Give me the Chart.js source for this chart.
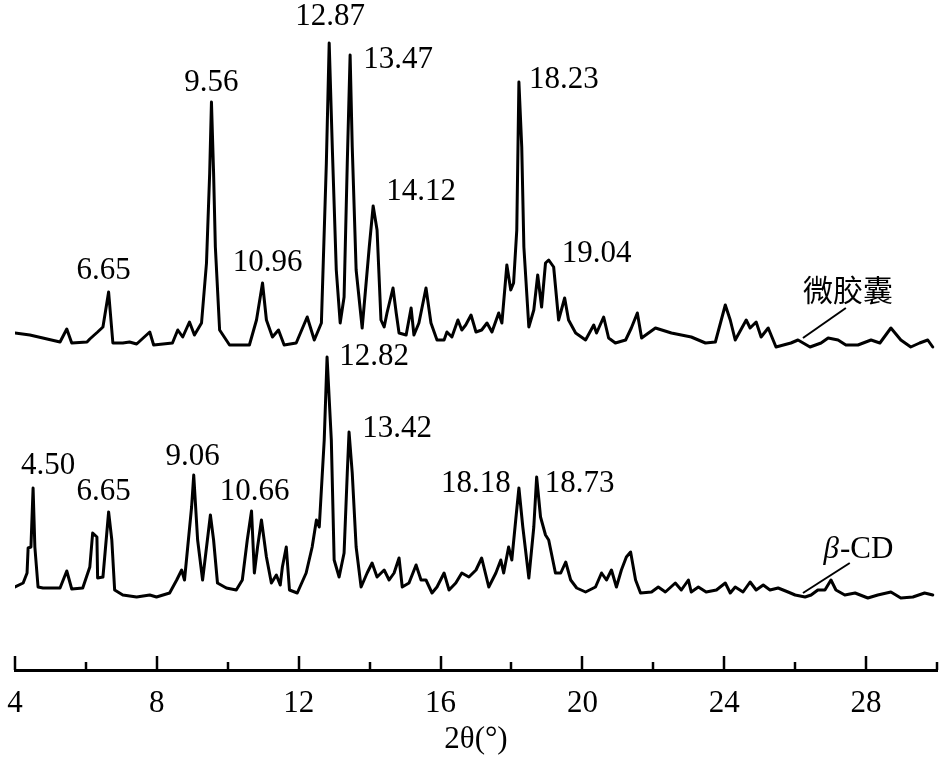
<!DOCTYPE html>
<html>
<head>
<meta charset="utf-8">
<script src="https://cdn.jsdelivr.net/npm/chart.js@4.4.1/dist/chart.umd.min.js"></script>
<style>
  html, body { margin: 0; padding: 0; background: #fff; }
  #wrap { width: 945px; height: 758px; position: relative; }
</style>
</head>
<body>
<div id="wrap"><canvas id="c" width="945" height="758"></canvas></div>
<script>
// ---- data ----
// 微胶囊 (microcapsule) pattern: 2θ (°) and intensity (a.u., above its own baseline)
const capsuleTheta = [4.00,4.42,5.27,5.46,5.60,6.03,6.11,6.33,6.48,6.64,6.76,7.04,7.23,7.43,7.80,7.91,8.44,8.59,8.73,8.92,9.06,9.26,9.40,9.49,9.54,9.60,9.65,9.77,10.05,10.61,10.81,10.98,11.09,11.26,11.43,11.59,11.93,12.24,12.44,12.64,12.78,12.86,12.95,13.06,13.17,13.28,13.37,13.45,13.51,13.62,13.79,13.99,14.10,14.21,14.32,14.41,14.49,14.66,14.75,14.83,15.03,15.17,15.25,15.39,15.59,15.73,15.90,16.10,16.18,16.32,16.49,16.60,16.71,16.86,17.00,17.16,17.31,17.45,17.64,17.73,17.87,17.98,18.06,18.15,18.21,18.29,18.35,18.49,18.63,18.74,18.85,18.96,19.05,19.19,19.33,19.50,19.61,19.81,20.09,20.32,20.40,20.60,20.74,20.93,21.22,21.38,21.55,21.67,22.06,22.51,23.07,23.47,23.75,24.03,24.17,24.31,24.62,24.73,24.90,25.04,25.24,25.46,25.88,26.08,26.42,26.73,26.93,27.21,27.43,27.77,28.14,28.39,28.70,28.98,29.26,29.51,29.74,29.88];
const capsuleInt   = [12,10,3,16,2,3,6,13,18,53,2,2,3,1,13,0,2,15,8,23,10,22,82,172,243,172,98,15,0,0,25,62,25,8,15,0,2,28,5,22,182,302,195,75,22,48,182,290,198,75,17,98,139,115,25,18,32,57,32,12,10,37,10,22,57,22,5,5,13,8,25,15,20,30,13,15,22,13,32,22,80,55,62,115,263,198,98,18,35,70,38,82,85,78,25,47,25,12,5,20,12,28,7,2,5,17,32,7,17,12,8,2,3,40,25,5,25,17,23,8,17,-2,2,5,-2,2,7,5,0,0,5,2,17,5,-2,2,5,-2];

// β-CD pattern
const cdTheta = [4.00,4.23,4.34,4.37,4.45,4.51,4.56,4.65,4.79,5.27,5.46,5.60,5.91,6.11,6.19,6.31,6.33,6.48,6.64,6.73,6.81,7.04,7.43,7.80,7.99,8.36,8.56,8.70,8.78,8.98,9.04,9.15,9.29,9.51,9.60,9.71,9.96,10.24,10.41,10.55,10.67,10.75,10.84,10.95,11.09,11.23,11.37,11.48,11.54,11.65,11.74,11.96,12.21,12.38,12.50,12.58,12.72,12.80,12.92,13.00,13.14,13.28,13.37,13.42,13.51,13.62,13.76,13.93,14.07,14.21,14.41,14.55,14.69,14.83,14.92,15.11,15.31,15.45,15.59,15.76,15.90,16.10,16.24,16.43,16.60,16.80,17.00,17.16,17.36,17.56,17.70,17.78,17.92,18.01,18.12,18.21,18.32,18.49,18.63,18.71,18.82,18.96,19.05,19.24,19.39,19.53,19.67,19.84,20.09,20.37,20.54,20.68,20.82,20.96,21.10,21.24,21.36,21.50,21.64,21.95,22.14,22.34,22.62,22.79,22.99,23.07,23.27,23.49,23.78,24.03,24.17,24.31,24.53,24.73,24.90,25.10,25.29,25.52,25.80,26.00,26.28,26.45,26.64,26.84,27.01,27.15,27.40,27.69,28.05,28.33,28.70,28.98,29.32,29.65,29.88];
const cdInt   = [11,15,25,50,51,110,51,11,10,10,27,9,10,31,65,61,20,21,86,58,8,3,1,3,1,5,18,28,18,91,123,58,18,83,58,15,10,8,18,58,87,25,51,78,41,15,23,13,31,51,8,5,25,51,78,71,158,241,158,38,21,45,125,166,125,51,11,25,35,21,28,18,25,40,11,15,33,18,18,5,11,25,8,15,25,21,28,40,11,25,38,25,51,38,78,110,71,20,71,121,81,63,58,25,25,36,18,10,6,11,25,18,28,11,28,41,46,18,5,6,11,6,15,8,18,6,11,6,8,15,5,11,6,16,8,13,8,10,6,3,1,3,8,8,18,8,3,5,0,3,6,0,1,5,3];

// peak labels
const capsulePeaks = [6.65, 9.56, 10.96, 12.87, 13.47, 14.12, 18.23, 19.04];
const cdPeaks      = [4.50, 6.65, 9.06, 10.66, 12.82, 13.42, 18.18, 18.73];

// axis ticks
const majorTicks = [4, 8, 12, 16, 20, 24, 28];
const minorTicks = [6, 10, 14, 18, 22, 26, 30];
const xTitle = '2θ(°)';
const seriesNames = ['微胶囊', 'β-CD'];

// ---- layout / style (not data) ----
const yTop = 670;            // y-scale span (1 unit per pixel of plot height)
const capsuleOffset = 325;   // vertical stacking offset of the upper pattern
const cdOffset = 72;         // vertical stacking offset of the lower pattern
const serif = '"Liberation Serif", "Times New Roman", serif';
// label offsets (px) from the peak tip, same order as the peak arrays
const capsuleLabelOff = [[-5,-21],[0,-19],[5,-20],[1,-26],[48,5],[48,-14],[45,-2],[48,-6]];
const cdLabelOff      = [[15,-22],[-5,-20],[-1,-18],[3,-19],[47,0],[48,-3],[-43,-4],[43,7]];
// name leaders in data units: [θ1, I1, θ2, I2], text anchor [θ, I]
const capsuleLeader = { line: [26.22, 7, 27.43, 37], text: [27.49, 55] };
const cdLeader      = { line: [26.22, 5, 27.54, 35], text: [27.77, 48] };

const toPts = (xs, ys, off) => xs.map((x, i) => ({ x: x, y: ys[i] + off }));

const overlay = {
  id: 'overlay',
  afterDatasetsDraw(chart) {
    const ctx = chart.ctx;
    const xs = chart.scales.x, ys = chart.scales.y;
    const area = chart.chartArea;
    ctx.save();
    // upward tick marks
    ctx.strokeStyle = '#000';
    ctx.lineWidth = 2.5;
    const drawTick = (v, len) => {
      const px = Math.round(xs.getPixelForValue(v));
      ctx.beginPath();
      ctx.moveTo(px, area.bottom);
      ctx.lineTo(px, area.bottom - len);
      ctx.stroke();
    };
    majorTicks.forEach(v => drawTick(v, 14));
    minorTicks.forEach(v => drawTick(v, 8));

    // peak labels
    ctx.fillStyle = '#000';
    ctx.font = '31px ' + serif;
    ctx.textAlign = 'center';
    ctx.textBaseline = 'middle';
    const label = (thetas, ints, off, peaks, offs) => {
      peaks.forEach((p, k) => {
        let best = -1, bi = 0;
        thetas.forEach((t, i) => {
          if (Math.abs(t - p) < 0.2 && ints[i] > best) { best = ints[i]; bi = i; }
        });
        const px = xs.getPixelForValue(thetas[bi]);
        const py = ys.getPixelForValue(ints[bi] + off);
        ctx.fillText(p.toFixed(2), px + offs[k][0], py + offs[k][1]);
      });
    };
    label(capsuleTheta, capsuleInt, capsuleOffset, capsulePeaks, capsuleLabelOff);
    label(cdTheta, cdInt, cdOffset, cdPeaks, cdLabelOff);

    // series name leaders
    ctx.lineWidth = 2;
    const leader = (ld, off) => {
      ctx.beginPath();
      ctx.moveTo(xs.getPixelForValue(ld.line[0]), ys.getPixelForValue(ld.line[1] + off));
      ctx.lineTo(xs.getPixelForValue(ld.line[2]), ys.getPixelForValue(ld.line[3] + off));
      ctx.stroke();
    };
    leader(capsuleLeader, capsuleOffset);
    leader(cdLeader, cdOffset);

    ctx.font = '30px "Noto Sans CJK SC", sans-serif';
    ctx.fillText(seriesNames[0], xs.getPixelForValue(capsuleLeader.text[0]), ys.getPixelForValue(capsuleLeader.text[1] + capsuleOffset));

    // β-CD with italic β
    const bx = xs.getPixelForValue(cdLeader.text[0]);
    const by = ys.getPixelForValue(cdLeader.text[1] + cdOffset);
    const beta = seriesNames[1].charAt(0), rest = seriesNames[1].slice(1);
    ctx.font = 'italic 31px ' + serif;
    const wb = ctx.measureText(beta).width;
    ctx.font = '31px ' + serif;
    const wr = ctx.measureText(rest).width;
    const start = bx - (wb + wr) / 2;
    ctx.textAlign = 'left';
    ctx.font = 'italic 31px ' + serif;
    ctx.fillText(beta, start, by);
    ctx.font = '31px ' + serif;
    ctx.fillText(rest, start + wb + 1, by);
    ctx.restore();
  }
};

new Chart(document.getElementById('c'), {
  type: 'line',
  data: {
    datasets: [
      { label: seriesNames[0], data: toPts(capsuleTheta, capsuleInt, capsuleOffset) },
      { label: seriesNames[1], data: toPts(cdTheta, cdInt, cdOffset) }
    ]
  },
  options: {
    responsive: false,
    animation: false,
    devicePixelRatio: 1,
    layout: { autoPadding: false, padding: { left: 15, right: 8, top: 0, bottom: 0 } },
    elements: {
      line: { borderColor: '#000', borderWidth: 3, tension: 0, borderJoinStyle: 'round', borderCapStyle: 'round' },
      point: { radius: 0 }
    },
    plugins: { legend: { display: false }, tooltip: { enabled: false } },
    scales: {
      x: {
        type: 'linear',
        min: 4, max: 30,
        afterBuildTicks(scale) {
          scale.ticks = majorTicks.concat(minorTicks).sort((a, b) => a - b).map(v => ({ value: v }));
        },
        afterFit(scale) {
          scale.height = 758 - yTop;
          scale.paddingLeft = 0;
          scale.paddingRight = 0;
        },
        grid: { display: false, drawTicks: false },
        border: { display: true, color: '#000', width: 3 },
        ticks: {
          autoSkip: false,
          maxRotation: 0,
          padding: 15,
          color: '#000',
          font: { family: serif, size: 31 },
          callback: v => (majorTicks.includes(v) ? String(v) : '')
        },
        title: {
          display: true,
          text: xTitle,
          color: '#000',
          font: { family: serif, size: 31 },
          padding: { top: 0, bottom: 0 }
        }
      },
      y: { display: false, min: 0, max: yTop }
    }
  },
  plugins: [overlay]
});
</script>
</body>
</html>
